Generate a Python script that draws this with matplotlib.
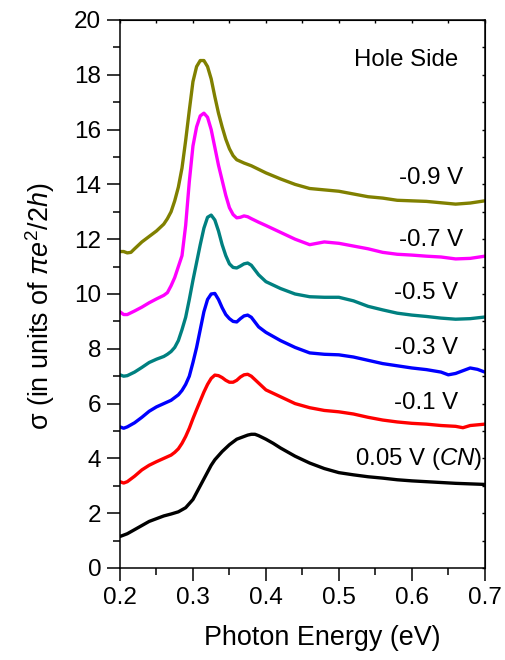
import matplotlib
matplotlib.use("Agg")
import matplotlib.pyplot as plt
from matplotlib.ticker import MultipleLocator

plt.rcParams['font.family'] = ['Liberation Sans', 'DejaVu Sans']
plt.rcParams['mathtext.fontset'] = 'custom'
plt.rcParams['mathtext.rm'] = 'Liberation Sans'
plt.rcParams['mathtext.it'] = 'Liberation Sans:italic'
plt.rcParams['mathtext.bf'] = 'Liberation Sans:bold'

# ---- data ----
e_cn = [0.20, 0.21, 0.22, 0.23, 0.24, 0.25, 0.26, 0.27, 0.28, 0.29, 0.30, 0.305, 0.31, 0.315, 0.32,
        0.325, 0.33, 0.34, 0.35, 0.36, 0.37, 0.375, 0.38, 0.385, 0.39, 0.40, 0.41, 0.42, 0.44, 0.46,
        0.48, 0.50, 0.52, 0.54, 0.56, 0.58, 0.60, 0.62, 0.64, 0.66, 0.68, 0.70]
s_cn = [1.15, 1.25, 1.40, 1.55, 1.70, 1.80, 1.90, 1.97, 2.05, 2.20, 2.50, 2.75, 3.00, 3.25, 3.50,
        3.75, 3.95, 4.25, 4.50, 4.70, 4.80, 4.85, 4.88, 4.88, 4.83, 4.70, 4.55, 4.38, 4.08, 3.83,
        3.63, 3.48, 3.40, 3.33, 3.28, 3.22, 3.18, 3.15, 3.12, 3.09, 3.07, 3.05]

e_m01 = [0.20, 0.205, 0.21, 0.22, 0.23, 0.24, 0.25, 0.26, 0.27, 0.275, 0.28, 0.285, 0.29, 0.295,
         0.30, 0.305, 0.31, 0.315, 0.32, 0.325, 0.33, 0.335, 0.34, 0.345, 0.35, 0.355, 0.36, 0.365,
         0.37, 0.375, 0.38, 0.39, 0.40, 0.42, 0.44, 0.46, 0.48, 0.50, 0.52, 0.54, 0.56, 0.58, 0.60,
         0.62, 0.64, 0.66, 0.67, 0.68, 0.70]
s_m01 = [3.15, 3.10, 3.15, 3.35, 3.58, 3.75, 3.88, 4.00, 4.12, 4.22, 4.35, 4.55, 4.80, 5.10,
         5.45, 5.78, 6.10, 6.42, 6.70, 6.92, 7.04, 7.02, 6.95, 6.85, 6.78, 6.78, 6.85, 6.97,
         7.05, 7.07, 7.00, 6.75, 6.50, 6.25, 6.00, 5.85, 5.75, 5.70, 5.62, 5.50, 5.40, 5.33, 5.28,
         5.25, 5.20, 5.17, 5.12, 5.20, 5.25]

e_m03 = [0.20, 0.205, 0.21, 0.22, 0.23, 0.24, 0.25, 0.26, 0.27, 0.275, 0.28, 0.285, 0.29, 0.295,
         0.30, 0.305, 0.31, 0.315, 0.32, 0.325, 0.33, 0.335, 0.34, 0.345, 0.35, 0.355, 0.36, 0.365,
         0.37, 0.375, 0.38, 0.39, 0.40, 0.41, 0.42, 0.44, 0.46, 0.48, 0.50, 0.52, 0.54, 0.56, 0.58,
         0.60, 0.62, 0.64, 0.65, 0.66, 0.68, 0.69, 0.70]
s_m03 = [5.15, 5.10, 5.15, 5.30, 5.50, 5.72, 5.88, 6.00, 6.12, 6.22, 6.32, 6.48, 6.70, 7.00,
         7.50, 8.05, 8.70, 9.35, 9.80, 10.00, 10.02, 9.80, 9.50, 9.25, 9.10, 9.00, 8.98, 9.10,
         9.20, 9.23, 9.15, 8.80, 8.60, 8.45, 8.30, 8.05, 7.85, 7.80, 7.78, 7.70, 7.58, 7.46, 7.38,
         7.30, 7.24, 7.15, 7.05, 7.10, 7.30, 7.25, 7.15]

e_m05 = [0.20, 0.205, 0.21, 0.22, 0.23, 0.24, 0.25, 0.26, 0.265, 0.27, 0.275, 0.28, 0.285, 0.29,
         0.295, 0.30, 0.305, 0.31, 0.315, 0.32, 0.325, 0.33, 0.335, 0.34, 0.345, 0.35, 0.355, 0.36,
         0.365, 0.37, 0.375, 0.38, 0.39, 0.40, 0.42, 0.44, 0.46, 0.48, 0.50, 0.52, 0.54, 0.56, 0.58,
         0.60, 0.62, 0.64, 0.66, 0.68, 0.70]
s_m05 = [7.05, 7.00, 7.02, 7.15, 7.32, 7.50, 7.62, 7.72, 7.80, 7.90, 8.05, 8.30, 8.70, 9.15,
         9.80, 10.50, 11.15, 11.80, 12.40, 12.80, 12.88, 12.70, 12.30, 11.80, 11.40, 11.10, 10.97,
         10.95, 11.02, 11.10, 11.13, 11.05, 10.70, 10.45, 10.20, 10.00, 9.90, 9.88, 9.88, 9.75,
         9.55, 9.42, 9.30, 9.23, 9.18, 9.12, 9.08, 9.10, 9.16]

e_m07 = [0.20, 0.205, 0.21, 0.22, 0.23, 0.24, 0.25, 0.26, 0.265, 0.27, 0.275, 0.28, 0.285, 0.29,
         0.295, 0.30, 0.305, 0.31, 0.315, 0.32, 0.325, 0.33, 0.335, 0.34, 0.345, 0.35, 0.355, 0.36,
         0.365, 0.37, 0.375, 0.38, 0.39, 0.40, 0.42, 0.44, 0.46, 0.48, 0.50, 0.52, 0.54, 0.56, 0.58,
         0.60, 0.62, 0.64, 0.66, 0.68, 0.70]
s_m07 = [9.35, 9.25, 9.25, 9.38, 9.52, 9.68, 9.82, 9.95, 10.05, 10.30, 10.60, 11.00, 11.40, 12.50,
         14.10, 15.40, 16.10, 16.50, 16.60, 16.45, 16.00, 15.35, 14.70, 14.15, 13.60, 13.15, 12.90,
         12.78, 12.80, 12.85, 12.82, 12.75, 12.62, 12.50, 12.25, 12.00, 11.80, 11.90, 11.85, 11.75,
         11.65, 11.52, 11.45, 11.42, 11.38, 11.35, 11.28, 11.30, 11.38]

e_m09 = [0.20, 0.205, 0.21, 0.215, 0.22, 0.23, 0.24, 0.25, 0.26, 0.265, 0.27, 0.275, 0.28, 0.285,
         0.29, 0.295, 0.30, 0.305, 0.31, 0.315, 0.32, 0.325, 0.33, 0.335, 0.34, 0.345, 0.35, 0.355,
         0.36, 0.37, 0.38, 0.39, 0.40, 0.42, 0.44, 0.46, 0.48, 0.50, 0.52, 0.54, 0.56, 0.58, 0.60,
         0.62, 0.64, 0.66, 0.68, 0.70]
s_m09 = [11.55, 11.55, 11.50, 11.52, 11.65, 11.90, 12.10, 12.30, 12.55, 12.75, 13.00, 13.40, 13.90,
         14.60, 15.60, 16.70, 17.75, 18.30, 18.52, 18.52, 18.30, 17.85, 17.20, 16.60, 16.10, 15.65,
         15.30, 15.05, 14.90, 14.78, 14.68, 14.55, 14.42, 14.20, 14.00, 13.85, 13.80, 13.75, 13.65,
         13.55, 13.50, 13.42, 13.40, 13.38, 13.33, 13.28, 13.32, 13.40]

series = [
    (e_cn, s_cn, 'black'),
    (e_m01, s_m01, '#ff0000'),
    (e_m03, s_m03, '#0000ff'),
    (e_m05, s_m05, '#008080'),
    (e_m07, s_m07, '#ff00ff'),
    (e_m09, s_m09, '#808000'),
]

labels = ['0.05 V ($\\mathit{CN}$)', '-0.1 V', '-0.3 V', '-0.5 V', '-0.7 V', '-0.9 V']
label_x = [0.697, 0.663, 0.663, 0.663, 0.670, 0.670]
label_y = [3.98, 6.02, 8.03, 10.04, 11.97, 14.23]

x_ticks = [0.2, 0.3, 0.4, 0.5, 0.6, 0.7]
y_ticks = [0, 2, 4, 6, 8, 10, 12, 14, 16, 18, 20]

# ---- figure ----
fig = plt.figure(figsize=(5.05, 6.60), dpi=100)
ax = fig.add_axes([0.2376, 0.1394, 0.960 - 0.2376, 0.9697 - 0.1394])

for e, s, c in series:
    ax.plot(e, s, color=c, lw=2.4, solid_joinstyle='round', solid_capstyle='round')

for t, x, y in zip(labels, label_x, label_y):
    ax.text(x, y, t, ha='right', va='center', fontsize=17.3)
ax.text(0.663, 18.54, 'Hole Side', ha='right', va='center', fontsize=17.3)

ax.set_xlim(0.2, 0.7)
ax.set_ylim(0, 20)
ax.set_xticks(x_ticks)
ax.set_xticklabels([f'{v:.1f}' for v in x_ticks])
ax.set_yticks(y_ticks)
ax.xaxis.set_minor_locator(MultipleLocator(0.05))
ax.yaxis.set_minor_locator(MultipleLocator(1))
ax.tick_params(which='major', direction='out', length=9.5, width=1.1, labelsize=17.5, pad=4)
ax.tick_params(which='minor', direction='out', length=5, width=1.1)
for sp in ax.spines.values():
    sp.set_linewidth(1.1)

sx = ax.secondary_xaxis('top')
sx.set_xticks(x_ticks)
sx.xaxis.set_minor_locator(MultipleLocator(0.05))
sx.tick_params(which='both', direction='in', length=2.5, width=1.0, labeltop=False)
sy = ax.secondary_yaxis('right')
sy.set_yticks(y_ticks)
sy.yaxis.set_minor_locator(MultipleLocator(1))
sy.tick_params(which='both', direction='in', length=2.5, width=1.0, labelright=False)

ax.set_xlabel('Photon Energy (eV)', fontsize=19.4)
ax.xaxis.set_label_coords(0.555, -0.104)
ax.set_ylabel('σ (in units of $\\pi e^2$/2$\\mathit{h}$)', fontsize=19.4)
ax.yaxis.set_label_coords(-0.174, 0.478)

fig.savefig('out.png', dpi=100)
